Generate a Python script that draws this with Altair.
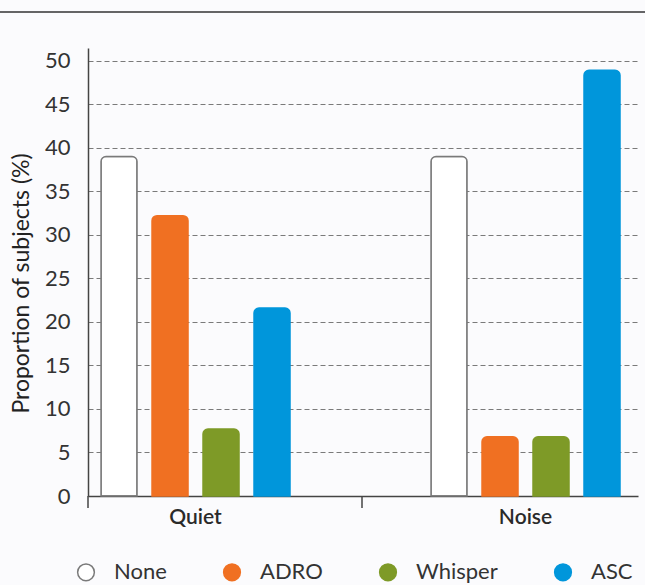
import altair as alt
import pandas as pd

# Proportion of subjects preferring each processing scheme, by listening condition
conditions = ["Quiet", "Noise"]
schemes = ["None", "ADRO", "Whisper", "ASC"]
quiet_pct = [39.0, 32.2, 7.7, 21.6]
noise_pct = [39.0, 6.8, 6.8, 48.9]

fill_colors = ["#ffffff", "#f07022", "#7e9a27", "#0096db"]
stroke_colors = ["#7a7a7a", "#f07022", "#7e9a27", "#0096db"]

rows = []
for cond, vals in zip(conditions, [quiet_pct, noise_pct]):
    for s, v in zip(schemes, vals):
        rows.append({"Condition": cond, "Scheme": s, "Percent": v})
df = pd.DataFrame(rows)

FONT = "Lato"
W, H = 550, 448

x_scale = alt.Scale(domain=conditions, paddingInner=0.4273, paddingOuter=0.047, align=0.42)


def scheme_legend():
    return alt.Legend(title=None, orient="none", direction="horizontal",
                      legendX=-13, legendY=513,
                      symbolType="circle", symbolSize=280,
                      symbolStrokeWidth=1.5, labelFont=FONT,
                      labelFontSize=22, labelColor="#333333",
                      labelOffset=17, columnPadding=53, padding=0)


bars = alt.Chart(df).mark_bar(
    cornerRadiusTopLeft=5, cornerRadiusTopRight=5, strokeWidth=1.5
).encode(
    x=alt.X("Condition:N", scale=x_scale, sort=conditions,
            axis=alt.Axis(title=None, labelAngle=0, ticks=False, tickSize=0,
                          labelPadding=10, labelFont=FONT, labelFontSize=21,
                          labelFontWeight=600, labelColor="#2a2a2a",
                          domainColor="#444444", domainWidth=1.5, grid=False)),
    xOffset=alt.XOffset("Scheme:N", sort=schemes,
                        scale=alt.Scale(domain=schemes, paddingInner=0.294, paddingOuter=0)),
    y=alt.Y("Percent:Q",
            scale=alt.Scale(domain=[0, 51.46], nice=False, zero=True),
            axis=alt.Axis(title="Proportion of subjects (%)",
                          values=list(range(0, 51, 5)),
                          ticks=False, labelPadding=18,
                          labelFont=FONT, labelFontSize=22, labelColor="#333333",
                          titleFont=FONT, titleFontSize=23, titleFontWeight="normal",
                          titleColor="#222222", titleAngle=270, titleX=-67, titleY=235,
                          titleAlign="center", titleBaseline="middle",
                          domainColor="#444444", domainWidth=1.5,
                          grid=True, gridColor="#7a7a7a", gridDash=[5, 3], gridWidth=1)),
    fill=alt.Fill("Scheme:N", sort=schemes,
                  scale=alt.Scale(domain=schemes, range=fill_colors),
                  legend=scheme_legend()),
    stroke=alt.Stroke("Scheme:N", sort=schemes,
                      scale=alt.Scale(domain=schemes, range=stroke_colors),
                      legend=scheme_legend()),
)

# Divider tick between the two condition groups, and the foot of the value axis,
# both hanging below the baseline
ticks_below = alt.Chart(pd.DataFrame({"pos": [0, 274]})).mark_rule(
    color="#444444", strokeWidth=1.5
).encode(
    x=alt.X("pos:Q", scale=None),
    y=alt.value(H),
    y2=alt.value(H + 12),
)

# Header rule across the top of the figure
header = alt.Chart(pd.DataFrame({"pos": [0]})).mark_rule(
    color="#333333", strokeWidth=1.5
).encode(
    x=alt.value(-88),
    x2=alt.value(W + 7),
    y=alt.value(-36),
)

chart = alt.layer(bars, ticks_below, header).resolve_scale(x="independent").properties(
    width=W, height=H,
    autosize=alt.AutoSizeParams(type="none"),
    padding={"left": 88, "top": 48, "right": 7, "bottom": 89},
    background="#fbfbfd",
).configure_view(stroke=None)

chart.save("out.html", embed_options={"renderer": "svg", "actions": False})
